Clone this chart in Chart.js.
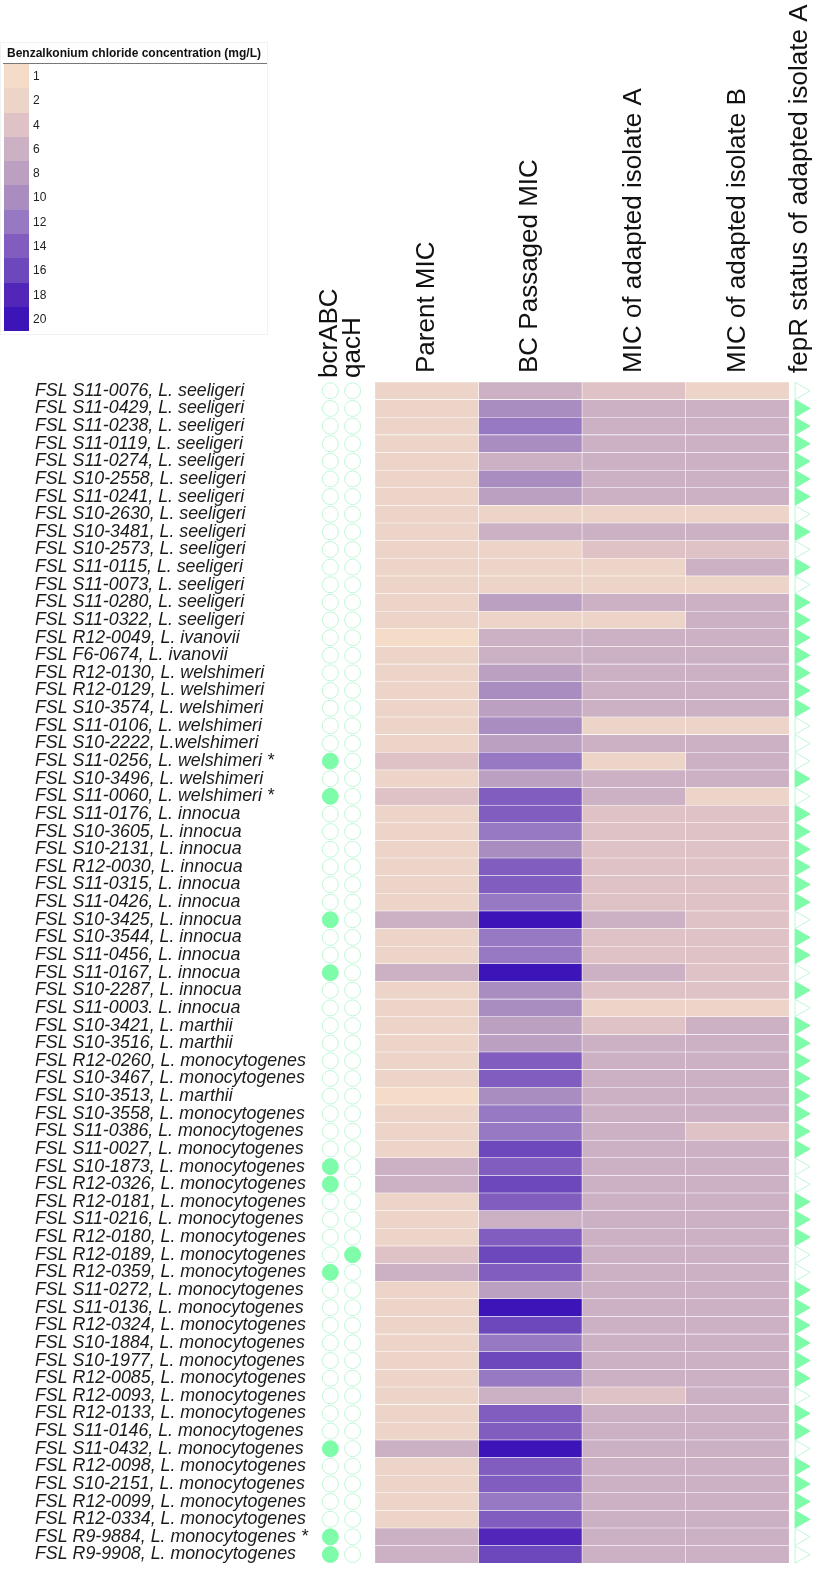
<!DOCTYPE html>
<html>
<head>
<meta charset="utf-8">
<script src="https://cdn.jsdelivr.net/npm/chart.js@4.4.1/dist/chart.umd.min.js"></script>
<style>
  body { margin: 0; background: #fff; }
  .wrap { position: relative; width: 815px; height: 1574px; }
  #key { position: absolute; left: 0; top: 42px; width: 266px; height: 291px; border: 1px solid #f2f2f2; font-family: "Liberation Sans", Arial, sans-serif; }
  .key-title { font-weight: bold; font-size: 12px; color: #111; padding: 3px 0 0 4px; height: 17px; border-bottom: 1px solid #777; margin-left: 2px; }
  .key-row { position: relative; height: 24.3px; }
  .key-row span.sw { position: absolute; left: 3px; top: 0; width: 25px; height: 24.3px; }
  .key-row span.lb { position: absolute; left: 32px; top: 5px; font-size: 12px; color: #222; }
</style>
</head>
<body>
<div class="wrap">
  <canvas id="heat" width="815" height="1574"></canvas>
  <div id="key">
    <div class="key-title">Benzalkonium chloride concentration (mg/L)</div>
    <div id="key-rows"></div>
  </div>
</div>
<script>
// isolates, top to bottom
var isolates = [
  "FSL S11-0076, L. seeligeri", "FSL S11-0429, L. seeligeri", "FSL S11-0238, L. seeligeri",
  "FSL S11-0119, L. seeligeri", "FSL S11-0274, L. seeligeri", "FSL S10-2558, L. seeligeri",
  "FSL S11-0241, L. seeligeri", "FSL S10-2630, L. seeligeri", "FSL S10-3481, L. seeligeri",
  "FSL S10-2573, L. seeligeri", "FSL S11-0115, L. seeligeri", "FSL S11-0073, L. seeligeri",
  "FSL S11-0280, L. seeligeri", "FSL S11-0322, L. seeligeri", "FSL R12-0049, L. ivanovii",
  "FSL F6-0674, L. ivanovii", "FSL R12-0130, L. welshimeri", "FSL R12-0129, L. welshimeri",
  "FSL S10-3574, L. welshimeri", "FSL S11-0106, L. welshimeri", "FSL S10-2222, L.welshimeri",
  "FSL S11-0256, L. welshimeri *", "FSL S10-3496, L. welshimeri", "FSL S11-0060, L. welshimeri *",
  "FSL S11-0176, L. innocua", "FSL S10-3605, L. innocua", "FSL S10-2131, L. innocua",
  "FSL R12-0030, L. innocua", "FSL S11-0315, L. innocua", "FSL S11-0426, L. innocua",
  "FSL S10-3425, L. innocua", "FSL S10-3544, L. innocua", "FSL S11-0456, L. innocua",
  "FSL S11-0167, L. innocua", "FSL S10-2287, L. innocua", "FSL S11-0003. L. innocua",
  "FSL S10-3421, L. marthii", "FSL S10-3516, L. marthii", "FSL R12-0260, L. monocytogenes",
  "FSL S10-3467, L. monocytogenes", "FSL S10-3513, L. marthii", "FSL S10-3558, L. monocytogenes",
  "FSL S11-0386, L. monocytogenes", "FSL S11-0027, L. monocytogenes", "FSL S10-1873, L. monocytogenes",
  "FSL R12-0326, L. monocytogenes", "FSL R12-0181, L. monocytogenes", "FSL S11-0216, L. monocytogenes",
  "FSL R12-0180, L. monocytogenes", "FSL R12-0189, L. monocytogenes", "FSL R12-0359, L. monocytogenes",
  "FSL S11-0272, L. monocytogenes", "FSL S11-0136, L. monocytogenes", "FSL R12-0324, L. monocytogenes",
  "FSL S10-1884, L. monocytogenes", "FSL S10-1977, L. monocytogenes", "FSL R12-0085, L. monocytogenes",
  "FSL R12-0093, L. monocytogenes", "FSL R12-0133, L. monocytogenes", "FSL S11-0146, L. monocytogenes",
  "FSL S11-0432, L. monocytogenes", "FSL R12-0098, L. monocytogenes", "FSL S10-2151, L. monocytogenes",
  "FSL R12-0099, L. monocytogenes", "FSL R12-0334, L. monocytogenes", "FSL R9-9884, L. monocytogenes *",
  "FSL R9-9908, L. monocytogenes"
];

// MIC values in mg/L
var parentMIC = [2,2,2,2,2,2,2,2,2,2, 2,2,2,2,1,2,2,2,2,2, 2,4,2,4,2,2,2,2,2,2,
  6,2,2,6,2,2,2,2,2,2, 1,2,2,2,6,6,2,2,2,4, 6,2,2,2,2,2,2,2,2,2, 6,2,2,2,2,6,6];
var passagedMIC = [6,10,12,10,6,10,8,2,6,2, 2,2,8,2,6,6,8,10,8,10, 8,12,8,14,14,12,10,14,14,12,
  20,12,12,20,10,10,8,8,14,14, 10,12,12,16,14,16,14,6,14,16, 14,8,20,16,12,16,12,6,14,14, 20,14,14,12,14,18,16];
var adaptedA = [4,6,6,6,6,6,6,2,6,4, 2,2,6,2,6,6,6,6,6,2, 6,2,6,6,4,4,4,4,4,4,
  6,4,4,6,4,2,4,6,6,6, 6,6,6,6,6,6,6,6,6,6, 6,6,6,6,6,6,6,4,6,6, 6,6,6,6,6,6,6];
var adaptedB = [2,6,6,6,6,6,6,2,6,4, 6,2,6,6,6,6,6,6,6,2, 6,6,6,2,4,4,4,4,4,4,
  4,4,4,4,4,2,6,6,6,6, 6,6,4,6,6,6,6,6,6,6, 6,6,6,6,6,6,6,6,6,6, 6,6,6,6,6,6,6];

// gene presence (1 = present) and fepR mutation (1 = filled triangle)
var bcrABC = [0,0,0,0,0,0,0,0,0,0, 0,0,0,0,0,0,0,0,0,0, 0,1,0,1,0,0,0,0,0,0,
  1,0,0,1,0,0,0,0,0,0, 0,0,0,0,1,1,0,0,0,0, 1,0,0,0,0,0,0,0,0,0, 1,0,0,0,0,1,1];
var qacH = [0,0,0,0,0,0,0,0,0,0, 0,0,0,0,0,0,0,0,0,0, 0,0,0,0,0,0,0,0,0,0,
  0,0,0,0,0,0,0,0,0,0, 0,0,0,0,0,0,0,0,0,1, 0,0,0,0,0,0,0,0,0,0, 0,0,0,0,0,0,0];
var fepR = [0,1,1,1,1,1,1,0,1,0, 1,0,1,1,1,1,1,1,1,0, 0,0,1,0,1,1,1,1,1,1,
  0,1,1,0,1,0,1,1,1,1, 1,1,1,1,0,0,1,1,1,0, 0,1,1,1,1,1,1,0,1,1, 0,1,1,1,1,0,0];

var levels = [1, 2, 4, 6, 8, 10, 12, 14, 16, 18, 20];
var levelColors = ["#f4dcc8", "#edd4c9", "#dfc2c5", "#ccb1c5", "#bba0c1", "#a98cc0",
  "#9778c2", "#805dbe", "#6c48bc", "#5226b9", "#3d14b8"];

var micColumns = [parentMIC, passagedMIC, adaptedA, adaptedB];
var headers = ["bcrABC", "qacH", "Parent MIC", "BC Passaged MIC",
  "MIC of adapted isolate A", "MIC of adapted isolate B", "fepR status of adapted isolate A"];
// where the marker columns sit on the x scale (heat columns are 0..4)
var markerX = { bcr: -0.43, qac: -0.215, fep: 4.105 };

var green = "#7ffca9";
var mint = "#bdf7d6";

function colorFor(v) {
  return levelColors[levels.indexOf(v)];
}

// legend
var keyRows = document.getElementById("key-rows");
levels.forEach(function (lv, i) {
  var row = document.createElement("div");
  row.className = "key-row";
  row.innerHTML = '<span class="sw" style="background:' + levelColors[i] + '"></span><span class="lb">' + lv + '</span>';
  keyRows.appendChild(row);
});

var heatSets = micColumns.map(function (vals, c) {
  return {
    type: "bar",
    data: vals.map(function () { return [c, c + 1]; }),
    backgroundColor: vals.map(colorFor),
    borderColor: "rgba(255,255,255,0.55)",
    borderWidth: 0.6,
    borderSkipped: false,
    grouped: false,
    barPercentage: 1,
    categoryPercentage: 1
  };
});

function markerSet(flags, x, style, key) {
  return {
    type: "scatter",
    stack: key,
    data: isolates.map(function (n) { return { x: x, y: n }; }),
    pointStyle: style,
    pointRotation: style === "triangle" ? 90 : 0,
    pointRadius: style === "triangle" ? 10 : 8,
    pointBorderWidth: 1,
    pointBackgroundColor: flags.map(function (f) { return f ? green : "#ffffff"; }),
    pointBorderColor: flags.map(function (f) { return f ? green : mint; }),
    clip: false
  };
}

var headerPlugin = {
  id: "headers",
  afterDraw: function (chart) {
    var ctx = chart.ctx;
    var x = chart.scales.x;
    var top = chart.chartArea.top;
    var spots = [markerX.bcr, markerX.qac, 0.5, 1.5, 2.5, 3.5, markerX.fep];
    ctx.save();
    ctx.font = '26px "Liberation Sans", Arial, sans-serif';
    ctx.fillStyle = "#111";
    ctx.textAlign = "left";
    ctx.textBaseline = "middle";
    headers.forEach(function (h, i) {
      ctx.save();
      ctx.translate(x.getPixelForValue(spots[i]), i < 2 ? top - 4 : top - 9);
      ctx.rotate(-Math.PI / 2);
      ctx.fillText(h, 0, 0);
      ctx.restore();
    });
    ctx.restore();
  }
};

var heatChart = new Chart(document.getElementById("heat").getContext("2d"), {
  type: "bar",
  data: {
    labels: isolates,
    datasets: heatSets.concat([
      markerSet(bcrABC, markerX.bcr, "circle", "b"),
      markerSet(qacH, markerX.qac, "circle", "q"),
      markerSet(fepR, markerX.fep, "triangle", "f")
    ])
  },
  options: {
    indexAxis: "y",
    responsive: false,
    animation: false,
    layout: { autoPadding: false, padding: { left: 35, top: 382, right: 3, bottom: 0 } },
    plugins: { legend: { display: false }, tooltip: { enabled: false } },
    scales: {
      x: { type: "linear", min: -0.52, max: 4.22, display: false },
      y: {
        type: "category",
        offset: true,
        grid: { display: false },
        border: { display: false },
        afterFit: function (scale) { scale.width = 286; },
        ticks: {
          autoSkip: false,
          crossAlign: "far",
          padding: 0,
          color: "#1a1a1a",
          font: { family: "'Liberation Sans', Arial, sans-serif", size: 17.8, style: "italic" }
        }
      }
    }
  },
  plugins: [headerPlugin]
});
</script>
</body>
</html>
